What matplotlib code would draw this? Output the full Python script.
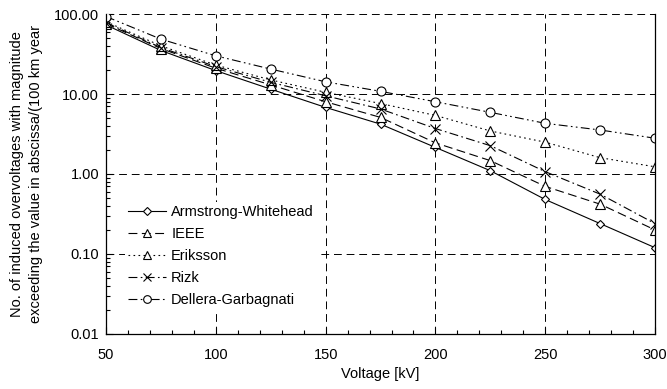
import matplotlib.pyplot as plt
import matplotlib.ticker as mticker

plt.rcParams['font.family'] = ['Liberation Sans', 'DejaVu Sans']

voltage = [50, 75, 100, 125, 150, 175, 200, 225, 250, 275, 300]
armstrong = [73, 35, 19.6, 11.5, 6.8, 4.2, 2.15, 1.1, 0.48, 0.24, 0.12]
ieee = [76, 37, 21, 13, 8.0, 5.1, 2.45, 1.47, 0.70, 0.42, 0.20]
eriksson = [80, 40, 23, 15, 10.5, 7.6, 5.4, 3.45, 2.5, 1.6, 1.23]
rizk = [78, 38, 22, 14, 9.5, 6.5, 3.7, 2.26, 1.07, 0.56, 0.24]
dellera = [93, 48.5, 30, 20.5, 14.2, 10.8, 8.0, 5.9, 4.3, 3.55, 2.8]

series = [
    ("Armstrong-Whitehead", armstrong, '-', 'D'),
    ("IEEE", ieee, (0, (8, 4)), '^'),
    ("Eriksson", eriksson, (0, (1.5, 3)), '^'),
    ("Rizk", rizk, (0, (8, 3, 1.5, 3)), 'x'),
    ("Dellera-Garbagnati", dellera, (0, (8, 3, 1.5, 3, 1.5, 3)), 'o'),
]

fig = plt.figure(figsize=(6.67, 3.89), dpi=100)
ax = fig.add_axes([0.159, 0.1414, 0.823, 0.8226])

for name, vals, ls, mk in series:
    ms = 4.5 if mk == 'D' else 6.5
    ax.plot(voltage, vals, color='black', linestyle=ls, linewidth=0.8,
            marker=mk, markersize=ms, markerfacecolor='white',
            markeredgecolor='black', markeredgewidth=0.8, label=name)

ax.set_yscale('log')
ax.set_xlim(50, 300)
ax.set_ylim(0.01, 100)
ax.set_xticks([50, 100, 150, 200, 250, 300])
ax.xaxis.set_minor_locator(mticker.MultipleLocator(10))
ax.yaxis.set_major_locator(mticker.LogLocator(base=10))
ax.yaxis.set_minor_locator(mticker.LogLocator(base=10, subs=range(2, 10)))
ax.yaxis.set_minor_formatter(mticker.NullFormatter())
ax.yaxis.set_major_formatter(mticker.FuncFormatter(lambda v, p: f"{v:.2f}"))

ax.tick_params(axis='both', which='both', direction='in', labelsize=10.5, width=0.8)
ax.tick_params(axis='both', which='major', length=5)
ax.tick_params(axis='both', which='minor', length=3)
ax.tick_params(axis='x', pad=10)
ax.tick_params(axis='y', pad=5)

ax.grid(True, which='major', color='black', linestyle=(0, (8, 5)), linewidth=0.7)
ax.spines['top'].set_visible(False)
for s in ['left', 'bottom', 'right']:
    ax.spines[s].set_linewidth(0.9)

ax.set_xlabel("Voltage [kV]", fontsize=10.5, labelpad=4)
ax.set_ylabel("No. of induced overvoltages with magnitude\nexceeding the value in abscissa/(100 km year",
              fontsize=10.5, labelpad=8, linespacing=1.4)

leg = ax.legend(loc='upper left', bbox_to_anchor=(0.035, 0.4125), frameon=True,
                fontsize=10.5, handlelength=2.6, labelspacing=0.55, borderaxespad=0,
                borderpad=0.2, handletextpad=0.35, markerscale=0.85,
                fancybox=False, framealpha=1)
leg.get_frame().set_facecolor('white')
leg.get_frame().set_edgecolor('none')

fig.savefig("out.png", dpi=100)
